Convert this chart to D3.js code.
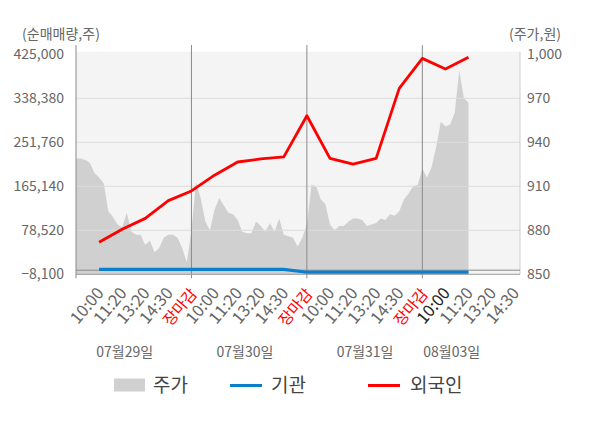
<!DOCTYPE html>
<html>
<head>
<meta charset="utf-8">
<script src="https://cdn.jsdelivr.net/npm/d3@7"></script>
<style>
  html, body { margin: 0; padding: 0; background: #fff; }
  svg { display: block; font-family: "Noto Sans CJK KR", "Noto Sans", sans-serif; }
</style>
</head>
<body>
<svg id="chart" width="600" height="428"></svg>
<script>
// ---------------- data ----------------
const dayLabels = ["07월29일", "07월30일", "07월31일", "08월03일"];
const timeTicks = ["10:00","11:20","13:20","14:30","장마감",
                   "10:00","11:20","13:20","14:30","장마감",
                   "10:00","11:20","13:20","14:30","장마감",
                   "10:00","11:20","13:20","14:30"];
const leftTicks = [425000, 338380, 251760, 165140, 78520, -8100];
const rightTicks = [1000, 970, 940, 910, 880, 850];

// net buying (shares) at each time tick, from the first 10:00 onward
const foreignNet = [55000, 80500, 102000, 137000, 156000, 187000, 213000, 219000, 223000,
                    304000, 220000, 209000, 220000, 358000, 417000, 396000, 419000];
const instNet = [1700, 1700, 1700, 1700, 1700, 1700, 1700, 1700, 1700,
                 -4000, -4000, -4000, -4000, -4000, -4000, -4000, -4000];

// stock price (won), sampled every 1/5 of a tick interval from the first open
const price = [929,929,928,926,919,916,912,893,889,884,882,892,879,877,877,870,873,865,868,875,877,877,875,868,858,
               880,913,902,886,880,894,902,897,892,891,887,879,878,878,886,883,879,885,879,888,877,876,875,869,875,
               884,911,910,901,898,884,880,883,883,886,888,888,887,883,884,885,888,887,891,890,893,901,905,910,911,
               922,916,923,937,954,951,952,960,989,970,967];

// ---------------- layout ----------------
const L = 76, R = 520, T = 54.3, B = 274.3;
const svg = d3.select("#chart");
const x = d3.scaleLinear().domain([0, 19.23]).range([L, R]);
const yL = d3.scaleLinear().domain([-8100, 425000]).range([B, T]);
const yR = d3.scaleLinear().domain([850, 1000]).range([B, T]);
const labelColor = "#666";

// background
svg.append("rect").attr("x", L).attr("y", T - 2.6).attr("width", R - L).attr("height", B - T + 2.6)
  .attr("fill", "#f4f4f4");

// price area
const priceArea = d3.area()
  .x((d, i) => x(i * 0.2))
  .y0(yR(850))
  .y1(d => yR(d));
svg.append("path").datum(price).attr("d", priceArea).attr("fill", "#d0d0d0");

// horizontal grid lines
svg.append("g").selectAll("line").data(leftTicks.slice(1, 5)).join("line")
  .attr("x1", L).attr("x2", R)
  .attr("y1", d => yL(d)).attr("y2", d => yL(d))
  .attr("stroke", "#dcdcdc").attr("stroke-width", 1);

// right border
svg.append("line").attr("x1", R).attr("x2", R).attr("y1", T - 2.6).attr("y2", B)
  .attr("stroke", "#cfcfcf").attr("stroke-width", 1);

// day separator lines + left axis
const daySlots = [0, 5, 10, 15];
svg.append("g").selectAll("line").data(daySlots).join("line")
  .attr("x1", d => x(d)).attr("x2", d => x(d))
  .attr("y1", 45).attr("y2", B + 4)
  .attr("stroke", "#8a8a8a").attr("stroke-width", 1);

// zero line and bottom axis line
svg.append("line").attr("x1", L).attr("x2", R).attr("y1", yL(0)).attr("y2", yL(0))
  .attr("stroke", "#8a8a8a").attr("stroke-width", 1);
svg.append("line").attr("x1", L).attr("x2", R).attr("y1", B).attr("y2", B)
  .attr("stroke", "#9a9a9a").attr("stroke-width", 1);

// institution line
const netLine = d3.line().x((d, i) => x(i + 1)).y(d => yL(d));
svg.append("path").datum(instNet).attr("d", netLine)
  .attr("fill", "none").attr("stroke", "#0a80cc").attr("stroke-width", 3.2);

// foreign line
svg.append("path").datum(foreignNet).attr("d", netLine)
  .attr("fill", "none").attr("stroke", "#ff0000").attr("stroke-width", 2.8)
  .attr("stroke-linejoin", "round");

// left axis labels
svg.append("g").selectAll("text").data(leftTicks).join("text")
  .attr("x", 64).attr("y", d => yL(d)).attr("dy", "0.36em")
  .attr("text-anchor", "end").attr("font-size", 14).attr("fill", labelColor)
  .text(d => d3.format(",")(d));

// right axis labels
svg.append("g").selectAll("text").data(rightTicks).join("text")
  .attr("x", 527).attr("y", d => yR(d)).attr("dy", "0.36em")
  .attr("text-anchor", "start").attr("font-size", 14).attr("fill", labelColor)
  .text(d => d3.format(",")(d));

// axis titles
svg.append("text").attr("x", 61).attr("y", 39).attr("text-anchor", "middle")
  .attr("font-size", 14).attr("fill", labelColor).text("(순매매량,주)");
svg.append("text").attr("x", 535).attr("y", 39).attr("text-anchor", "middle")
  .attr("font-size", 14).attr("fill", labelColor).text("(주가,원)");

// x tick labels (rotated, hanging from a common bottom line)
svg.append("g").selectAll("text").data(timeTicks).join("text")
  .attr("transform", (d, i) => `translate(${x(i + 1) - 21},${d === "장마감" ? 327 : 325}) rotate(-50)`)
  .attr("text-anchor", "start")
  .attr("font-size", d => d === "장마감" ? 15.5 : 16.5)
  .attr("fill", (d, i) => d === "장마감" ? "#ff0000" : (i === 15 ? "#222" : labelColor))
  .text(d => d);

// date labels
const dateCenters = [2.11, 7.32, 12.52, 16.27];
svg.append("g").selectAll("text").data(dayLabels).join("text")
  .attr("x", (d, i) => x(dateCenters[i])).attr("y", 357)
  .attr("text-anchor", "middle").attr("font-size", 14).attr("fill", labelColor)
  .text(d => d);

// legend
const lg = svg.append("g");
lg.append("rect").attr("x", 114).attr("y", 378.5).attr("width", 31).attr("height", 13).attr("fill", "#d0d0d0");
lg.append("text").attr("x", 153).attr("y", 392).attr("font-size", 19).attr("fill", "#444").text("주가");
lg.append("line").attr("x1", 230).attr("x2", 262).attr("y1", 385.5).attr("y2", 385.5)
  .attr("stroke", "#0a80cc").attr("stroke-width", 3);
lg.append("text").attr("x", 271).attr("y", 392).attr("font-size", 19).attr("fill", "#444").text("기관");
lg.append("line").attr("x1", 368).attr("x2", 400).attr("y1", 385.5).attr("y2", 385.5)
  .attr("stroke", "#ff0000").attr("stroke-width", 3);
lg.append("text").attr("x", 410).attr("y", 392).attr("font-size", 19).attr("fill", "#444").text("외국인");
</script>
</body>
</html>
